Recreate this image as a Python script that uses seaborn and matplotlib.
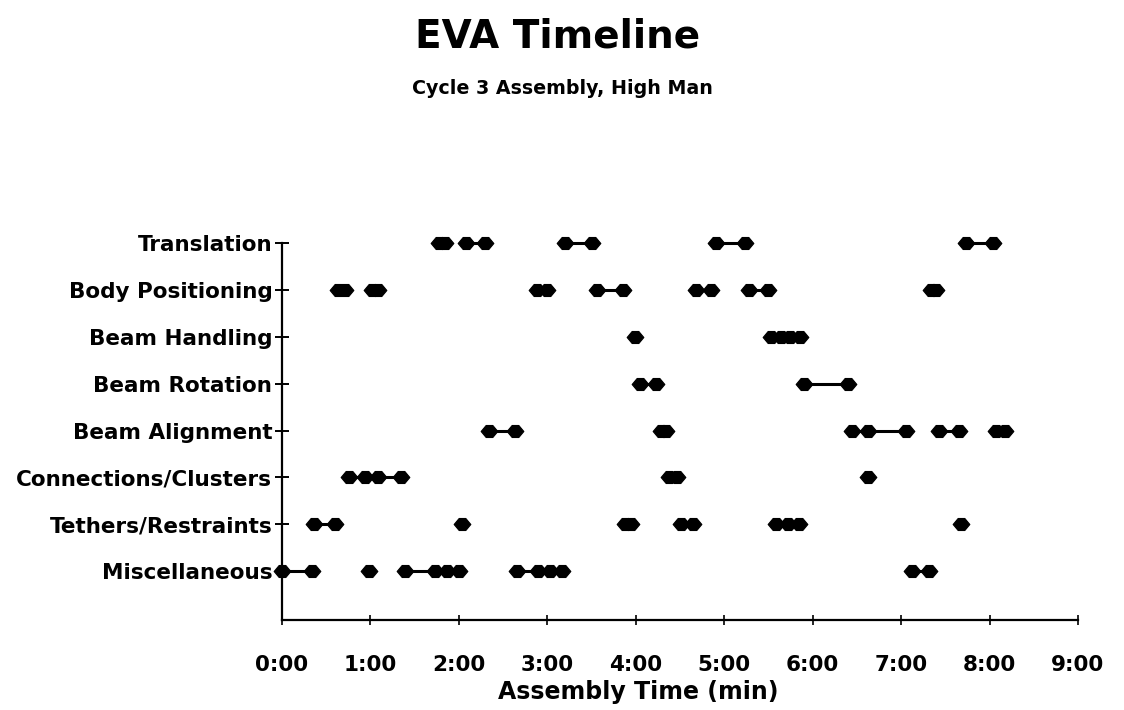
import pandas as pd
import matplotlib
matplotlib.use('Agg')
import matplotlib.pyplot as plt
from matplotlib.path import Path
import seaborn as sns

# Categories (top to bottom) and task segments in minutes
categories = ['Translation', 'Body Positioning', 'Beam Handling', 'Beam Rotation',
              'Beam Alignment', 'Connections/Clusters', 'Tethers/Restraints', 'Miscellaneous']

translation = [[1.77, 1.84], [2.08, 2.29], [3.20, 3.50], [4.91, 5.24], [7.73, 8.04]]
body_positioning = [[0.63, 0.71], [1.02, 1.09], [2.88, 3.00], [3.56, 3.85],
                    [4.68, 4.85], [5.28, 5.50], [7.34, 7.39]]
beam_handling = [[3.99], [5.53, 5.64, 5.74, 5.86]]
beam_rotation = [[4.05, 4.23], [5.90, 6.40]]
beam_alignment = [[2.34, 2.64], [4.28, 4.34], [6.44, 6.63, 7.05], [7.43, 7.65], [8.07, 8.18]]
connections = [[0.76, 0.94, 1.09, 1.35], [4.38, 4.47], [6.62]]
tethers = [[0.36, 0.60], [2.04], [3.88, 3.95], [4.51, 4.65], [5.59, 5.72, 5.85], [7.68]]
miscellaneous = [[0.00, 0.34], [0.98], [1.39, 1.73, 1.87, 2.00],
                 [2.66, 2.90, 3.03, 3.17], [7.12, 7.32]]

tick_labels = ['0:00', '1:00', '2:00', '3:00', '4:00', '5:00', '6:00', '7:00', '8:00', '9:00']

all_rows = [translation, body_positioning, beam_handling, beam_rotation,
            beam_alignment, connections, tethers, miscellaneous]

# long table: one line per segment
recs = []
seg_id = 0
for row, segs in enumerate(all_rows):
    for seg in segs:
        for t in seg:
            recs.append({'row': row, 'time': t, 'seg': seg_id})
        seg_id += 1
df = pd.DataFrame(recs)

sns.set_style('white')
plt.rcParams['font.family'] = ['DejaVu Sans']
plt.rcParams['font.weight'] = 'bold'
plt.rcParams['text.color'] = 'black'

# flattened diamond like the old plotter marks
blob = Path([(-1, 0), (-0.4, 0.72), (0.4, 0.72), (1, 0), (0.4, -0.72), (-0.4, -0.72), (-1, 0)],
            closed=True)

fig = plt.figure(figsize=(11.24, 7.1), dpi=100)
ax = fig.add_axes([282 / 1124, 1 - 620 / 710, (1078 - 282) / 1124, (620 - 243) / 710])

sns.lineplot(data=df, x='time', y='row', units='seg', estimator=None, sort=False,
             color='black', linewidth=2.2, marker=blob, markersize=12,
             markeredgecolor='black', markerfacecolor='black', markeredgewidth=0.8,
             ax=ax, clip_on=False)

ax.set_xlim(0, 9)
ax.set_ylim(7 + 49 / 47, 0)
ax.set_xticks(range(10))
ax.set_xticklabels(tick_labels, fontsize=15.5, fontweight='bold', color='black')
ax.set_yticks(range(len(categories)))
ax.set_yticklabels(categories, fontsize=15.5, fontweight='bold', color='black')
ax.set_xlabel('')
ax.set_ylabel('')

for s in ['top', 'right']:
    ax.spines[s].set_visible(False)
for s in ['left', 'bottom']:
    ax.spines[s].set_color('black')
    ax.spines[s].set_linewidth(1.6)

ax.tick_params(axis='y', left=True, direction='inout', length=10, width=1.4, pad=2,
               colors='black')
ax.tick_params(axis='x', bottom=True, direction='inout', length=7, width=1.2, pad=22,
               colors='black')

fig.text(558 / 1124, 1 - 37 / 710, 'EVA Timeline', ha='center', va='center',
         fontsize=28, fontweight='bold', color='black')
fig.text(562 / 1124, 1 - 88 / 710, 'Cycle 3 Assembly, High Man', ha='center', va='center',
         fontsize=13.7, fontweight='bold', color='black')
fig.text(638 / 1124, 1 - 692 / 710, 'Assembly Time (min)', ha='center', va='center',
         fontsize=17, fontweight='bold', color='black')

fig.savefig('out.png', dpi=100, facecolor='white')
